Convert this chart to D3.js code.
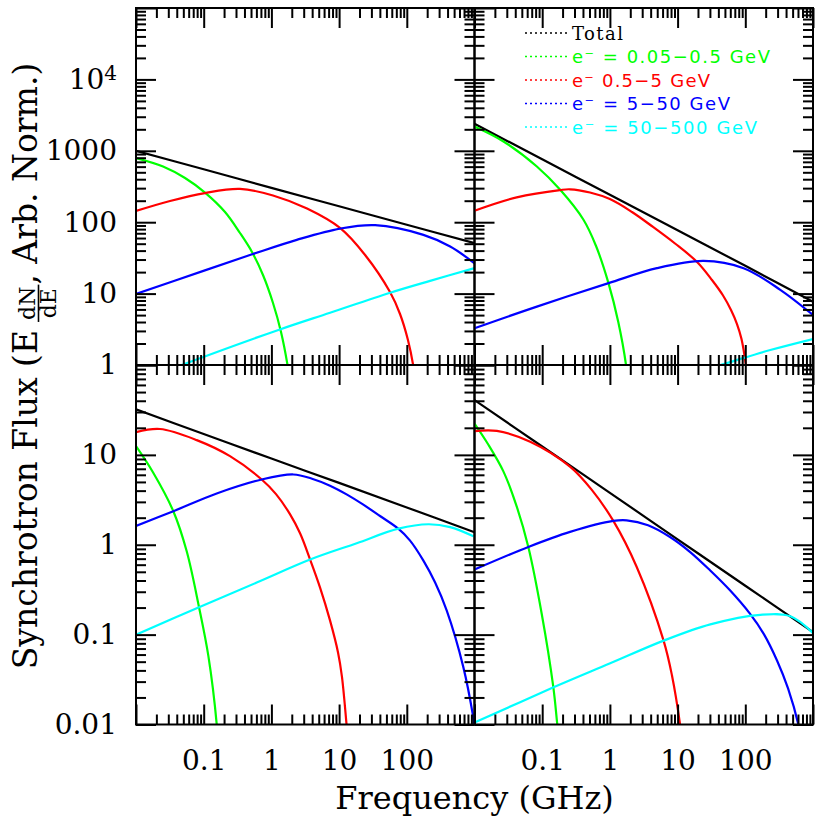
<!DOCTYPE html>
<html>
<head>
<meta charset="utf-8">
<script src="https://cdn.jsdelivr.net/npm/d3@7"></script>
<style>
body { margin: 0; background: #fff; }
svg text { font-family: "DejaVu Serif", serif; fill: #000; }
</style>
</head>
<body>
<div id="chart"></div>
<script>
// ---- values: [frequency GHz, flux] ----
var seriesNames = ["Total", "e\u207B = 0.05\u22120.5 GeV", "e\u207B 0.5\u22125 GeV", "e\u207B = 5\u221250 GeV", "e\u207B = 50\u2212500 GeV"];
var seriesColors = ["#000000", "#00ff00", "#ff0000", "#0000ff", "#00ffff"];

var xTickLabels = [0.1, 1, 10, 100];
var yTickLabelsTop = [1, 10, 100, 1000, 10000];
var yTickLabelsBottom = [0.01, 0.1, 1, 10];

// top left
var tlTotal = [[0.01, 1000], [0.1, 551], [1, 303], [10, 167], [100, 92], [1000, 51]];
var tlGreen = [[0.01, 793], [0.0251, 603], [0.053, 416], [0.1045, 260], [0.2065, 139], [0.3436, 70.6], [0.5166, 38.3], [0.751, 18.2], [1.056, 7.38], [1.387, 2.9], [1.73, 1], [1.95, 0.447]];
var tlRed = [[0.01, 143.5], [0.0318, 198], [0.1045, 256], [0.3436, 292], [1.056, 237], [3.36, 155], [10.3, 83], [24.2, 34.7], [56.5, 10.5], [79.4, 5.18], [104, 2.24], [124, 1], [132, 0.617]];
var tlBlue = [[0.01, 9.9], [0.099, 20.8], [0.542, 36], [2.37, 56.6], [10.35, 81.5], [34, 90.8], [176, 66.4], [437, 45.6], [1000, 26.6]];
var tlCyan = [[0.01, 0.57], [0.0473, 1], [1.27, 3.1], [7.36, 5.4], [56.8, 10.3], [221, 15.1], [1000, 22.7]];

// top right
var trTotal = [[0.01, 2390], [0.1, 760], [1, 242], [10, 77], [100, 24.5], [1000, 7.7]];
var trGreen = [[0.01, 2190], [0.0268, 1352], [0.0834, 603], [0.1845, 284], [0.405, 109], [0.624, 46.4], [0.955, 13.9], [1.33, 4.0], [1.73, 1], [1.85, 0.525]];
var trRed = [[0.01, 145], [0.042, 223], [0.183, 282], [0.2576, 289], [0.508, 261], [1.0, 211], [2.12, 139], [4.34, 85.7], [9.16, 50.3], [19.4, 27.7], [32.2, 15.5], [46.9, 9.4], [61.5, 5.89], [75.4, 3.75], [87.9, 2.31], [102, 1], [110, 0.525]];
var trBlue = [[0.01, 3.27], [0.0834, 6.57], [0.955, 14], [4.95, 22.7], [24.2, 28.7], [94.4, 22.7], [329, 11.3], [1000, 5.02]];
var trCyan = [[10, 0.68], [42.8, 1], [234, 1.62], [1000, 2.31]];

// bottom left
var blTotal = [[0.01, 32.1], [0.1, 17.1], [1, 9.1], [10, 4.88], [100, 2.6], [1000, 1.38]];
var blGreen = [[0.01, 12.5], [0.0178, 6.4], [0.0356, 2.36], [0.0561, 0.846], [0.0853, 0.202], [0.117, 0.0583], [0.156, 0.0099], [0.165, 0.005]];
var blRed = [[0.01, 17.9], [0.0226, 19.4], [0.0789, 14.6], [0.2445, 9.68], [0.719, 5.32], [1.17, 3.66], [1.88, 2.19], [2.65, 1.34], [3.72, 0.689], [5.22, 0.336], [7.34, 0.144], [9.64, 0.0634], [11.0, 0.0343], [12.9, 0.0099], [13.5, 0.0066]];
var blBlue = [[0.01, 1.62], [0.0356, 2.36], [0.1556, 3.72], [0.719, 5.32], [2.11, 6.05], [3.98, 5.43], [7.34, 4.54], [13.1, 3.61], [22.8, 2.79], [40.2, 2.09], [74.8, 1.51], [111, 1.12], [175, 0.671], [261, 0.382], [388, 0.186], [684, 0.0435], [960, 0.012], [1047, 0.0076]];
var blCyan = [[0.01, 0.1], [0.0853, 0.202], [0.607, 0.38], [3.73, 0.685], [18.2, 1.04], [75.3, 1.51], [209, 1.69], [437, 1.57], [966, 1.24]];

// bottom right
var brTotal = [[0.01, 40.7], [0.1, 12.4], [1, 3.78], [10, 1.15], [100, 0.35], [1000, 0.107]];
var brGreen = [[0.01, 22.3], [0.0158, 13.2], [0.0266, 6.59], [0.041, 2.82], [0.0624, 0.945], [0.0983, 0.171], [0.146, 0.026], [0.167, 0.01], [0.177, 0.0066]];
var brRed = [[0.01, 18.4], [0.0214, 18.5], [0.0665, 14], [0.26, 7.35], [0.544, 4.05], [1.13, 1.83], [2.49, 0.566], [6.21, 0.0857], [8.26, 0.0351], [10.9, 0.0099], [11.6, 0.0066]];
var brBlue = [[0.01, 0.53], [0.0624, 0.945], [0.258, 1.39], [1.12, 1.84], [1.77, 1.87], [3.66, 1.65], [7.73, 1.22], [15.2, 0.835], [30.1, 0.52], [59.4, 0.311], [117, 0.171], [189, 0.1007], [294, 0.0516], [428, 0.0252], [607, 0.01], [665, 0.0066]];
var brCyan = [[0.01, 0.0105], [0.147, 0.0259], [1.01, 0.0479], [6.21, 0.0857], [30.4, 0.13], [167, 0.166], [462, 0.16], [1000, 0.104]];

// ---- layout ----
var width = 830, height = 819;
var xLeft = 136, xMid = 474.5, xRight = 813;
var yTop = 8, yMid = 365, yBottom = 724.5;

var svg = d3.select("#chart").append("svg")
    .attr("width", width)
    .attr("height", height);

var xScaleL = d3.scaleLog().domain([0.01, 1000]).range([xLeft, xMid]);
var xScaleR = d3.scaleLog().domain([0.01, 1000]).range([xMid, xRight]);
var yScaleT = d3.scaleLog().domain([1, 1e5]).range([yMid, yTop]);
var yScaleB = d3.scaleLog().domain([0.01, 100]).range([yBottom, yMid]);

var panels = [
    {id: "tl", x: xScaleL, y: yScaleT, series: [tlTotal, tlGreen, tlRed, tlBlue, tlCyan], yLabels: yTickLabelsTop, xLabels: null},
    {id: "tr", x: xScaleR, y: yScaleT, series: [trTotal, trGreen, trRed, trBlue, trCyan], yLabels: null, xLabels: null},
    {id: "bl", x: xScaleL, y: yScaleB, series: [blTotal, blGreen, blRed, blBlue, blCyan], yLabels: yTickLabelsBottom, xLabels: xTickLabels},
    {id: "br", x: xScaleR, y: yScaleB, series: [brTotal, brGreen, brRed, brBlue, brCyan], yLabels: null, xLabels: xTickLabels}
];

// decades are major ticks, the rest minor
function splitTicks(scale) {
    var all = scale.ticks();
    var major = all.filter(function (d) {
        var l = Math.log10(d);
        return Math.abs(l - Math.round(l)) < 1e-6;
    });
    var minor = all.filter(function (d) { return major.indexOf(d) < 0; });
    return [major, minor];
}

function tickAxis(axisFn, scale, values, size, transform) {
    var g = svg.append("g").attr("transform", transform)
        .call(axisFn(scale).tickValues(values).tickSize(-size).tickFormat(""));
    g.select(".domain").remove();
    g.selectAll(".tick line").attr("stroke", "#000").attr("stroke-width", 2);
    return g;
}

var line = d3.line().curve(d3.curveCatmullRom.alpha(0.5));

panels.forEach(function (p) {
    var x0 = p.x.range()[0], x1 = p.x.range()[1];
    var y0 = p.y.range()[1], y1 = p.y.range()[0];
    var xt = splitTicks(p.x), yt = splitTicks(p.y);

    // curves, clipped to the panel
    svg.append("clipPath").attr("id", "clip-" + p.id)
        .append("rect").attr("x", x0).attr("y", y0).attr("width", x1 - x0).attr("height", y1 - y0);

    var g = svg.append("g").attr("clip-path", "url(#clip-" + p.id + ")");
    p.series.forEach(function (s, i) {
        g.append("path")
            .attr("d", line.x(function (d) { return p.x(d[0]); }).y(function (d) { return p.y(d[1]); })(s))
            .attr("fill", "none")
            .attr("stroke", seriesColors[i])
            .attr("stroke-width", 2.2);
    });

    // inward ticks on all four sides
    [[xt[0], 20], [xt[1], 10]].forEach(function (t) {
        tickAxis(d3.axisBottom, p.x, t[0], t[1], "translate(0," + y1 + ")");
        tickAxis(d3.axisTop, p.x, t[0], t[1], "translate(0," + y0 + ")");
    });
    [[yt[0], 20], [yt[1], 10]].forEach(function (t) {
        tickAxis(d3.axisLeft, p.y, t[0], t[1], "translate(" + x0 + ",0)");
        tickAxis(d3.axisRight, p.y, t[0], t[1], "translate(" + x1 + ",0)");
    });

    svg.append("rect")
        .attr("x", x0).attr("y", y0)
        .attr("width", x1 - x0).attr("height", y1 - y0)
        .attr("fill", "none").attr("stroke", "#000").attr("stroke-width", 2);

    // tick labels
    if (p.yLabels) {
        var gl = svg.append("g").attr("transform", "translate(" + x0 + ",0)")
            .call(d3.axisLeft(p.y).tickValues(p.yLabels).tickSize(0).tickPadding(19)
                .tickFormat(function (d) { return String(d); }));
        gl.select(".domain").remove();
        gl.attr("font-family", null).attr("font-size", null);
        gl.selectAll("text").style("font-size", "28px");
        gl.selectAll("text").filter(function (d) { return d === 10000; })
            .text("10")
            .append("tspan").attr("dy", "-0.42em").style("font-size", "20px").text("4");
    }
    if (p.xLabels) {
        var gx = svg.append("g").attr("transform", "translate(0," + y1 + ")")
            .call(d3.axisBottom(p.x).tickValues(p.xLabels).tickSize(0).tickPadding(26)
                .tickFormat(function (d) { return String(d); }));
        gx.select(".domain").remove();
        gx.attr("font-family", null).attr("font-size", null);
        gx.selectAll("text").style("font-size", "28px");
    }
});

// legend in the top right panel
var legendX = 525, legendY = 33, legendStep = 23.5;
var legendWidths = [51, 198, 138, 158, 185];
seriesNames.forEach(function (name, i) {
    var yy = legendY + i * legendStep;
    svg.append("line")
        .attr("x1", legendX).attr("x2", legendX + 45)
        .attr("y1", yy).attr("y2", yy)
        .attr("stroke", seriesColors[i]).attr("stroke-width", 1.6)
        .attr("stroke-dasharray", "2,3");
    svg.append("text")
        .attr("x", legendX + 47).attr("y", yy + 6.5)
        .style("font-family", i === 0 ? "'DejaVu Serif', serif" : "'DejaVu Sans', sans-serif")
        .style("font-size", "18px")
        .style("fill", seriesColors[i])
        .attr("textLength", legendWidths[i])
        .attr("lengthAdjust", "spacing")
        .text(name);
});

// axis titles
svg.append("text")
    .attr("x", (xLeft + xRight) / 2).attr("y", 809)
    .attr("text-anchor", "middle")
    .style("font-size", "32px")
    .text("Frequency (GHz)");

var gy = svg.append("g").attr("transform", "translate(37,366) rotate(-90)");
var t1 = gy.append("text").style("font-size", "33px").text("Synchrotron Flux (E");
var t2 = gy.append("text").style("font-size", "33px").text(", Arb. Norm.)");
var fn = gy.append("text").style("font-size", "22px").attr("text-anchor", "middle").text("dN");
var fd = gy.append("text").style("font-size", "22px").attr("text-anchor", "middle").text("dE");
var w1 = t1.node().getComputedTextLength();
var w2 = t2.node().getComputedTextLength();
var wf = Math.max(fn.node().getComputedTextLength(), fd.node().getComputedTextLength()) + 4;
var gap = 8;
var total = w1 + gap + wf + w2;
var start = -total / 2;
t1.attr("x", start);
var fc = start + w1 + gap + wf / 2;
fn.attr("x", fc).attr("y", -2);
fd.attr("x", fc).attr("y", 19);
gy.append("line")
    .attr("x1", fc - wf / 2).attr("x2", fc + wf / 2)
    .attr("y1", 1.5).attr("y2", 1.5)
    .attr("stroke", "#000").attr("stroke-width", 1.6);
t2.attr("x", start + w1 + gap + wf);
</script>
</body>
</html>
